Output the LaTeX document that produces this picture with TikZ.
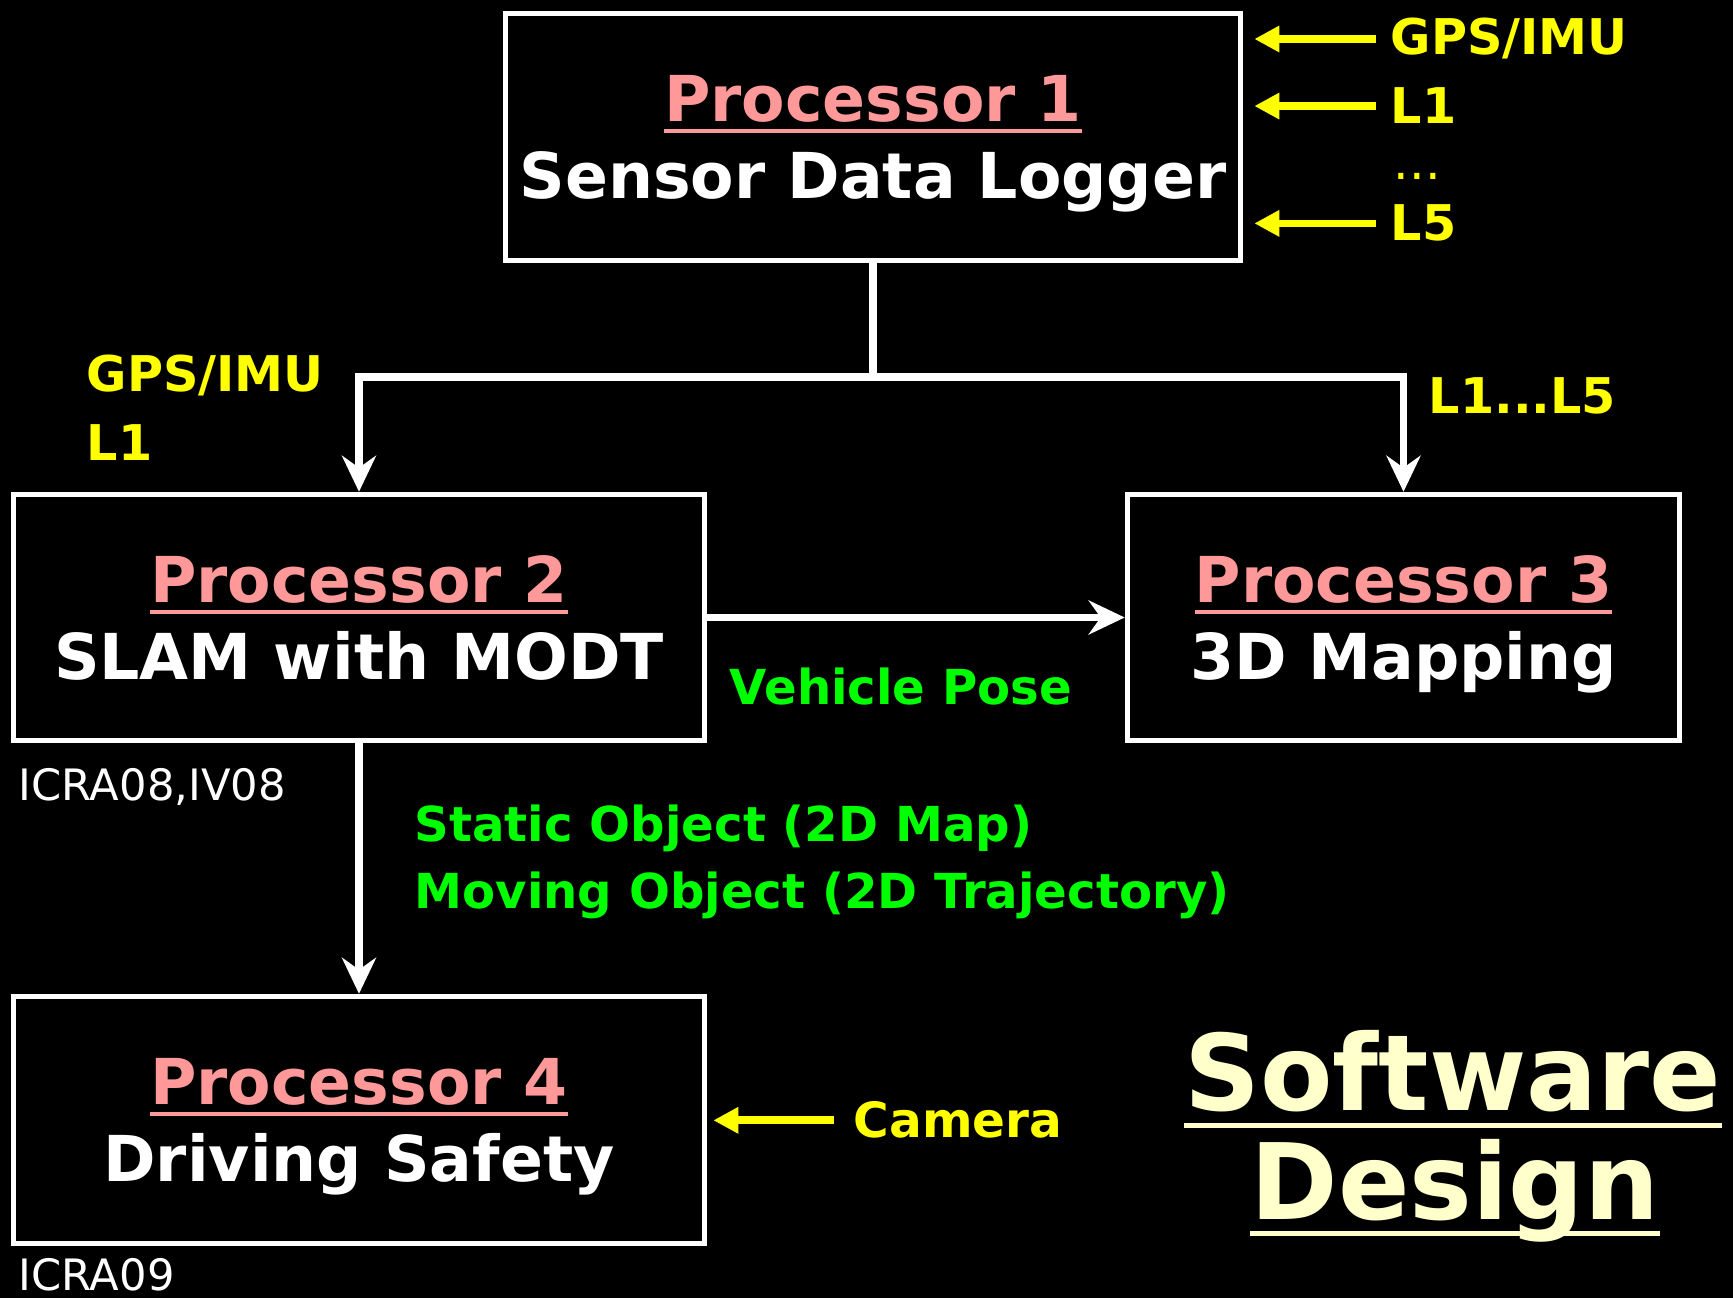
\documentclass[tikz,border=0pt]{standalone}
\usepackage{fontspec}
\setmainfont{DejaVu Sans}
\usetikzlibrary{arrows.meta,calc}
\definecolor{procpink}{HTML}{FF9999}
\definecolor{sigyellow}{HTML}{FFFF00}
\definecolor{datagreen}{HTML}{00FF00}
\definecolor{titlecream}{HTML}{FFFFCC}
\newcommand{\ulbox}[1]{\setbox0\hbox{#1}\rlap{\rule[-3.3pt]{\wd0}{1pt}}\box0}
\newcommand{\proc}[2]{\textcolor{procpink}{\ulbox{Processor #1}}\\#2}

\begin{document}
\begin{tikzpicture}[x=0.01cm, y=-0.01cm,
	procbox/.style={draw=white, line width=1.5pt, rectangle, fill=black, text=white,
		font=\fontsize{18}{22}\selectfont\bfseries, align=center, text depth=0pt},
	siglabel/.style={text=sigyellow, font=\fontsize{14}{16}\selectfont\bfseries, anchor=base west, inner sep=0pt},
	datalabel/.style={text=datagreen, font=\fontsize{13.7}{16}\selectfont\bfseries, anchor=base west, inner sep=0pt},
	citelabel/.style={text=white, font=\fontsize{12.3}{14}\selectfont, anchor=base west, inner sep=0pt},
	swtitle/.style={text=titlecream, font=\fontsize{30}{34}\selectfont\bfseries, anchor=base, inner sep=0pt},
	wline/.style={draw=white, line width=2pt},
	warrow/.style={wline, -{Stealth[length=3.6mm, width=3.4mm, inset=1.2mm]}},
	yarrow/.style={draw=sigyellow, line width=2.2pt, -{Triangle[length=2.5mm, width=2.5mm]}},
	swline/.style={draw=titlecream, line width=1.4pt}]
			%%%%% START %%%%%
			
			\fill[black] (0, 0) rectangle (1733, 1298);
			\useasboundingbox (0, 0) rectangle (1733, 1298);
			
			\node[procbox, minimum width=7.35cm, minimum height=2.47cm] (p1) at (873, 137) {\proc{1}{Sensor Data Logger}};
			\node[procbox, minimum width=6.91cm, minimum height=2.46cm] (p2) at (359, 617.5) {\proc{2}{SLAM with MODT}};
			\node[procbox, minimum width=5.52cm, minimum height=2.46cm] (p3) at (1403.5, 617.5) {\proc{3}{3D Mapping}};
			\node[procbox, minimum width=6.91cm, minimum height=2.47cm] (p4) at (359, 1120) {\proc{4}{Driving Safety}};
			
			% sensor inputs
			\node[siglabel] (gps) at (1390, 55) {GPS/IMU};
			\node[siglabel] (la) at (1390, 124) {L1};
			\node[siglabel, font=\fontsize{14}{16}\selectfont] (dots) at (1393, 180) {...};
			\node[siglabel] (lb) at (1390, 241) {L5};
			\draw[yarrow] ($(gps.west)+(-14, 0)$) -- ($(p1.east |- gps.west)+(11, 0)$);
			\draw[yarrow] ($(la.west)+(-14, 0)$) -- ($(p1.east |- la.west)+(11, 0)$);
			\draw[yarrow] ($(lb.west)+(-14, 0)$) -- ($(p1.east |- lb.west)+(11, 0)$);
			
			\node[siglabel, font=\fontsize{13.8}{16}\selectfont\bfseries] (cam) at (853, 1138) {Camera};
			\draw[yarrow] ($(cam.west)+(-19, 0)$) -- ($(p4.east |- cam.west)+(6, 0)$);
			
			% data flow
			\coordinate (split) at (873, 377);
			\draw[wline] (p1.south) -- (split);
			\draw[warrow] (split) -| (p2.north);
			\draw[warrow] (split) -| (p3.north);
			\draw[warrow] (p2.east) -- (p3.west);
			\draw[warrow] (p2.south) -- (p4.north);
			
			\node[siglabel] (gpsb) at (86, 392) {GPS/IMU};
			\node[siglabel] (lc) at (86, 461) {L1};
			\node[siglabel] (ld) at (1428, 414) {L1...L5};
			\node[datalabel] (pose) at (729, 705) {Vehicle Pose};
			\node[datalabel] (static) at (414, 842) {Static Object (2D Map)};
			\node[datalabel] (moving) at (414, 909) {Moving Object (2D Trajectory)};
			
			\node[citelabel] (cite2) at (18, 801) {ICRA08,IV08};
			\node[citelabel] (cite4) at (18, 1290) {ICRA09};
			
			% title
			\node[swtitle] (sw) at (1453, 1111) {Software};
			\node[swtitle] (dsg) at (1455, 1219) {Design};
			\draw[swline] ([yshift=-4pt]sw.base west) -- ([yshift=-4pt]sw.base east);
			\draw[swline] ([yshift=-4pt]dsg.base west) -- ([yshift=-4pt]dsg.base east);
			
			%%%%% END %%%%%
\end{tikzpicture}
\end{document}
